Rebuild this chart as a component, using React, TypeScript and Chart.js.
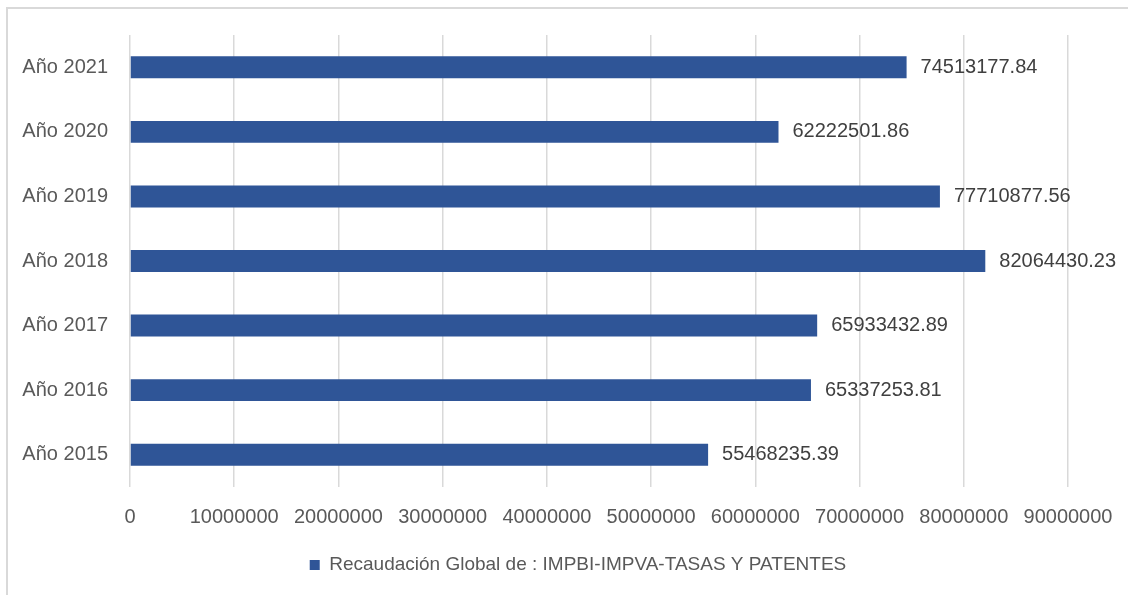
import React, { useEffect, useRef } from "react";
import { Chart, registerables } from "chart.js";

Chart.register(...registerables);

const categories = ["Año 2021", "Año 2020", "Año 2019", "Año 2018", "Año 2017", "Año 2016", "Año 2015"];
const values = [74513177.84, 62222501.86, 77710877.56, 82064430.23, 65933432.89, 65337253.81, 55468235.39];
const seriesName = "Recaudación Global de : IMPBI-IMPVA-TASAS Y PATENTES";
const xMin = 0;
const xMax = 90000000;
const xStep = 10000000;

const FONT = "'Liberation Sans', Arial, sans-serif";

const framePlugin = {
  id: "frame",
  beforeDraw(chart: any) {
    const ctx = chart.ctx;
    ctx.save();
    ctx.fillStyle = "#ffffff";
    ctx.fillRect(0, 0, chart.width, chart.height);
    ctx.strokeStyle = "#d9d9d9";
    ctx.lineWidth = 2;
    ctx.beginPath();
    ctx.moveTo(7, chart.height);
    ctx.lineTo(7, 8);
    ctx.lineTo(chart.width, 8);
    ctx.stroke();
    ctx.restore();
  },
};

const legendShift = {
  id: "legendShift",
  afterLayout(chart: any) {
    const lg = chart.legend;
    if (lg) {
      lg.left += 44;
      lg.right += 44;
    }
  },
};

const labelPlugin = {
  id: "valueLabels",
  afterDatasetsDraw(chart: any) {
    const ctx = chart.ctx;
    const meta = chart.getDatasetMeta(0);
    const data = chart.data.datasets[0].data as number[];
    ctx.save();
    ctx.font = `20px ${FONT}`;
    ctx.fillStyle = "#404040";
    ctx.textAlign = "left";
    ctx.textBaseline = "middle";
    meta.data.forEach((bar: any, i: number) => {
      ctx.fillText(data[i].toFixed(2), bar.x + 14, bar.y);
    });
    ctx.restore();
  },
};

export default function App() {
  const ref = useRef<HTMLCanvasElement | null>(null);
  useEffect(() => {
    if (!ref.current) return;
    const chart = new Chart(ref.current, {
      type: "bar",
      data: {
        labels: categories,
        datasets: [
          {
            label: seriesName,
            data: values,
            backgroundColor: "#2F5597",
            borderColor: "#2F5597",
            borderWidth: 0,
            categoryPercentage: 0.5,
            barPercentage: 0.68,
          },
        ],
      },
      options: {
        indexAxis: "y",
        responsive: false,
        animation: false,
        layout: { padding: { left: 0, top: 35, right: 60, bottom: 10.5 } },
        plugins: {
          tooltip: { enabled: false },
          legend: {
            position: "bottom",
            labels: {
              boxWidth: 10,
              boxHeight: 10,
              padding: 10,
              color: "#595959",
              font: { family: FONT, size: 19 },
            },
          },
        },
        scales: {
          x: {
            min: xMin,
            max: xMax,
            ticks: {
              stepSize: xStep,
              color: "#595959",
              padding: 18,
              font: { family: FONT, size: 20 },
              callback: (v: any) => String(v),
              maxRotation: 0,
              autoSkip: false,
            },
            grid: { color: "#d9d9d9", lineWidth: 1.5, drawTicks: false },
            border: { display: false },
            afterFit: (scale: any) => {
              scale.height = 58.5;
              scale.paddingRight = 0;
              scale.paddingLeft = 0;
            },
          },
          y: {
            ticks: {
              color: "#595959",
              padding: 22,
              font: { family: FONT, size: 20 },
            },
            grid: { display: false, drawTicks: false },
            border: { display: false },
            afterFit: (scale: any) => {
              scale.width = 130;
            },
          },
        },
      },
      plugins: [framePlugin, legendShift, labelPlugin],
    });
    return () => chart.destroy();
  }, []);
  return (
    <div style={{ position: "fixed", left: 0, top: 0, width: 1128, height: 595 }}>
      <canvas ref={ref} width={1128} height={595} style={{ display: "block" }} />
    </div>
  );
}
